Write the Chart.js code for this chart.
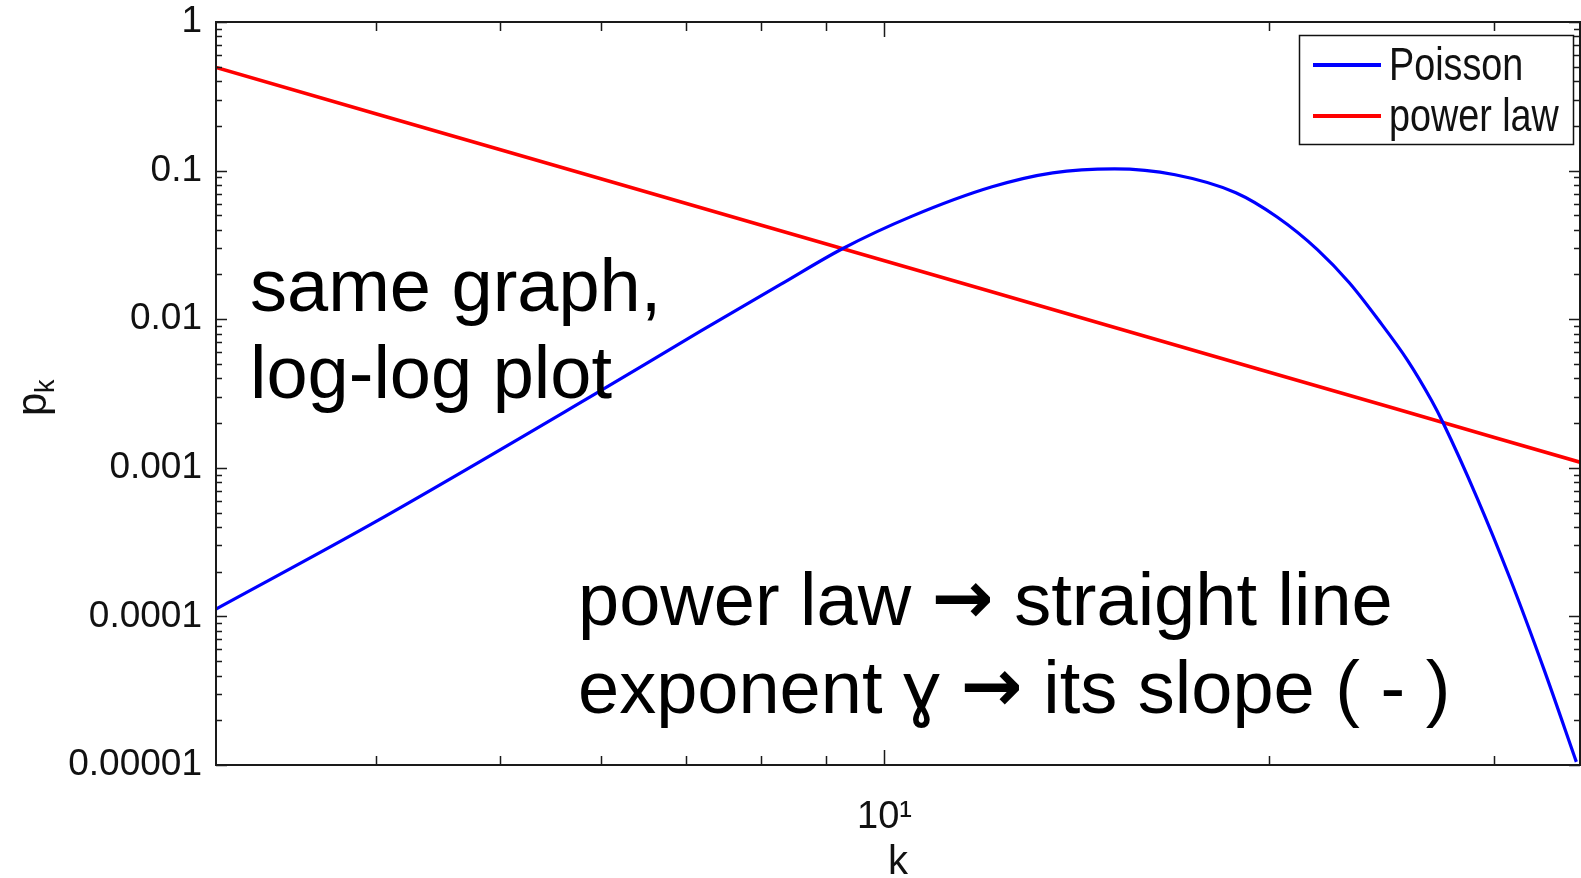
<!DOCTYPE html>
<html><head><meta charset="utf-8">
<script src="https://cdn.jsdelivr.net/npm/chart.js@4.4.1/dist/chart.umd.min.js"></script>
<style>html,body{margin:0;padding:0;background:#fff;overflow:hidden}canvas{display:block}</style>
</head><body>
<canvas id="c" width="1581" height="878"></canvas>
<script>
// ---- data ----
const kPoisson = [3, 4, 5.89, 7.18, 8.3, 9.27, 10.5, 12.14, 13.54, 15.13, 16.88, 18.83, 20.27, 21.82, 23.1, 24.34, 25.64, 26.77, 27.35, 29.07, 30.84, 32.78, 34.77];
const pPoisson = [1.12e-4, 4.34e-4, 3.01e-3, 8.3e-3, 0.0172, 0.0298, 0.0492, 0.0778, 0.0966, 0.1028, 0.0938, 0.0710, 0.0489, 0.0293, 0.0176, 0.00991, 0.00533, 0.00287, 0.00201, 6.31e-4, 1.82e-4, 4.47e-5, 1.05e-5];
const kPower = [3, 4, 5, 6, 8, 10, 12, 15, 20, 25, 30, 35];
const pPower = [0.495, 0.2416, 0.1387, 0.0882, 0.0431, 0.0247, 0.0157, 0.0090, 0.00440, 0.00253, 0.00160, 0.00109];
const seriesNames = ['Poisson', 'power law'];
const xMajorTicks = [10];
const xTickLabels = ['10\u00B9'];
const xMinorTicks = [4, 5, 6, 7, 8, 9, 20, 30];
const yMajorTicks = [0.00001, 0.0001, 0.001, 0.01, 0.1, 1];
const yTickLabels = ['0.00001', '0.0001', '0.001', '0.01', '0.1', '1'];
const yMinorFactors = [2, 3, 4, 5, 6, 7, 8, 9];

const SANS = "'Liberation Sans', Arial, Helvetica, sans-serif";
const ARROW_FONT = "bold 74px 'DejaVu Sans', sans-serif";
const TEXT_FONT = "74px " + SANS;
const annotations = [
  [[{t: 'same graph,'}], 250, 311],
  [[{t: 'log-log plot'}], 250, 398],
  [[{t: 'power law '}, {t: '\u2192', a: 1}, {t: ' straight line'}], 578, 625],
  [[{t: 'exponent \u0263 '}, {t: '\u2192', a: 1}, {t: ' its slope ( - )'}], 578, 713]
];

const yMinorTicks = [];
yMajorTicks.slice(0, -1).forEach(d => yMinorFactors.forEach(f => yMinorTicks.push(d * f)));

function condensedText(ctx, txt, x, y, sx) {
  ctx.save();
  ctx.translate(x, y);
  ctx.scale(sx, 1);
  ctx.fillText(txt, 0, 0);
  ctx.restore();
}

const matlabAxes = {
  id: 'matlabAxes',
  afterDatasetsDraw(chart) {
    const {ctx, chartArea: a, scales: {x, y}} = chart;
    ctx.save();
    ctx.strokeStyle = '#1a1a1a';
    ctx.lineWidth = 1.5;
    ctx.beginPath();
    xMinorTicks.forEach(v => { const px = Math.round(x.getPixelForValue(v)) + 0.5;
      ctx.moveTo(px, a.bottom); ctx.lineTo(px, a.bottom - 9);
      ctx.moveTo(px, a.top); ctx.lineTo(px, a.top + 9); });
    xMajorTicks.forEach(v => { const px = Math.round(x.getPixelForValue(v)) + 0.5;
      ctx.moveTo(px, a.bottom); ctx.lineTo(px, a.bottom - 15);
      ctx.moveTo(px, a.top); ctx.lineTo(px, a.top + 15); });
    yMinorTicks.forEach(v => { const py = Math.round(y.getPixelForValue(v)) + 0.5;
      ctx.moveTo(a.left, py); ctx.lineTo(a.left + 6, py);
      ctx.moveTo(a.right, py); ctx.lineTo(a.right - 6, py); });
    yMajorTicks.forEach(v => { const py = Math.round(y.getPixelForValue(v)) + 0.5;
      ctx.moveTo(a.left, py); ctx.lineTo(a.left + 11, py);
      ctx.moveTo(a.right, py); ctx.lineTo(a.right - 11, py); });
    ctx.stroke();
    ctx.lineWidth = 2;
    ctx.strokeRect(a.left, a.top, a.right - a.left, a.bottom - a.top);

    // legend box
    const lx = 1299, ly = 35, lw = 274, lh = 109;
    ctx.fillStyle = '#fff';
    ctx.fillRect(lx, ly, lw, lh);
    ctx.lineWidth = 1.5;
    ctx.strokeStyle = '#111';
    ctx.strokeRect(lx + 0.5, ly + 0.5, lw, lh);
    chart.data.datasets.forEach((ds, i) => {
      const cy = ly + 30 + i * 51;
      ctx.strokeStyle = ds.borderColor;
      ctx.lineWidth = 4;
      ctx.beginPath(); ctx.moveTo(lx + 14, cy); ctx.lineTo(lx + 82, cy); ctx.stroke();
      ctx.fillStyle = '#111';
      ctx.font = '46px ' + SANS;
      ctx.textBaseline = 'middle';
      ctx.textAlign = 'left';
      condensedText(ctx, ds.label, lx + 90, cy + 2, 0.82);
    });

    // y axis title p_k
    ctx.save();
    ctx.translate(46, 400);
    ctx.rotate(-Math.PI / 2);
    ctx.fillStyle = '#111';
    ctx.textBaseline = 'alphabetic';
    ctx.textAlign = 'left';
    ctx.font = '42px ' + SANS;
    ctx.fillText('p', -16, 0);
    ctx.font = '27px ' + SANS;
    ctx.fillText('k', 7, 8);
    ctx.restore();

    // annotations
    ctx.fillStyle = '#000';
    ctx.textBaseline = 'alphabetic';
    ctx.textAlign = 'left';
    annotations.forEach(([segs, x0, y0]) => {
      let cx = x0;
      segs.forEach(s => {
        ctx.font = s.a ? ARROW_FONT : TEXT_FONT;
        ctx.fillText(s.t, cx, s.a ? y0 - 2 : y0);
        cx += ctx.measureText(s.t).width;
      });
    });
    ctx.restore();
  }
};

new Chart(document.getElementById('c'), {
  type: 'line',
  data: {
    datasets: [
      { label: seriesNames[0], data: kPoisson.map((k, i) => ({x: k, y: pPoisson[i]})),
        borderColor: '#0000ff', borderWidth: 3.2, pointRadius: 0, cubicInterpolationMode: 'monotone', fill: false },
      { label: seriesNames[1], data: kPower.map((k, i) => ({x: k, y: pPower[i]})),
        borderColor: '#ff0000', borderWidth: 3.6, pointRadius: 0, tension: 0, fill: false }
    ]
  },
  options: {
    responsive: false,
    animation: false,
    devicePixelRatio: 1,
    layout: { padding: { top: 22, right: 1, left: 0, bottom: 0 } },
    plugins: { legend: { display: false }, tooltip: { enabled: false }, title: { display: false } },
    scales: {
      x: {
        type: 'logarithmic', min: 3, max: 35,
        afterFit: s => { s.height = 113; s.paddingLeft = 0; s.paddingRight = 0; },
        afterBuildTicks: s => { s.ticks = xMajorTicks.map(v => ({value: v, major: true})); },
        grid: { display: false }, border: { display: false },
        ticks: { autoSkip: false, maxRotation: 0, padding: 22, color: '#111',
          font: { size: 38, family: SANS }, callback: (v, i) => xTickLabels[i] },
        title: { display: true, text: 'k', color: '#111', padding: { top: 0, bottom: 3 },
          font: { size: 40, family: SANS, lineHeight: 0.6 } }
      },
      y: {
        type: 'logarithmic', min: 0.00001, max: 1,
        afterFit: s => { s.width = 216; s.paddingTop = 0; s.paddingBottom = 0; },
        afterBuildTicks: s => { s.ticks = yMajorTicks.map(v => ({value: v, major: true})); },
        grid: { display: false }, border: { display: false },
        ticks: { autoSkip: false, padding: 6, color: '#111',
          font: { size: 37, family: SANS }, callback: (v, i) => yTickLabels[i] }
      }
    }
  },
  plugins: [matlabAxes]
});
</script>
</body></html>
